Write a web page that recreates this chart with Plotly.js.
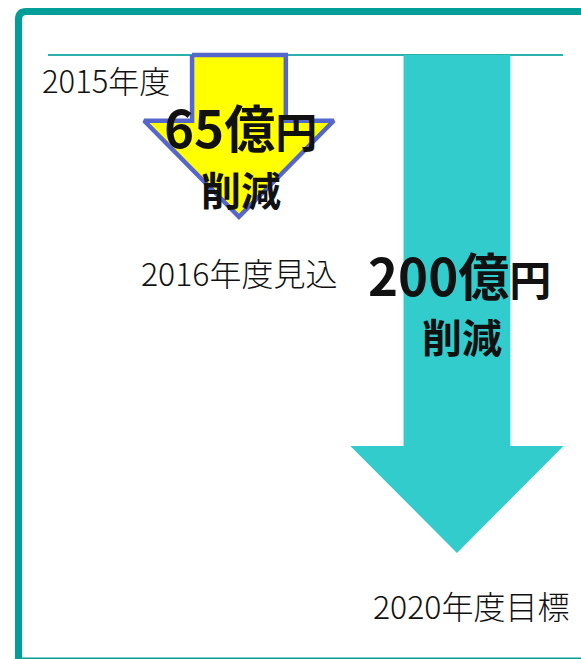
<!DOCTYPE html>
<html>
<head>
<meta charset="utf-8">
<script src="https://cdn.plot.ly/plotly-3.0.1.min.js"></script>
<style>html,body{margin:0;padding:0;background:#fff;}#chart{width:581px;height:659px;}</style>
</head>
<body>
<div id="chart"></div>
<script>
// ---- data ----
const years = ["2015年度", "2016年度見込", "2020年度目標"];
const baseline = 0;                       // 2015年度 level
const reductionYears = ["2016年度見込", "2020年度目標"];
const reductions = [65, 200];             // 億円 削減
const unitLabel = "億円";
const actionLabel = "削減";

// ---- styles ----
const W = 581, H = 659;
const arrowFill = ["#FFFF00", "#33CCCC"];
const arrowLine = ["#5566CC", "rgba(0,0,0,0)"];
const arrowLineW = [4.5, 0];
const shaftHalf = [0.215, 0.245];
const headHalf = [0.435, 0.489];
const headLen = [38.6, 43];
const frameColor = "#009E99";
const baseColor = "#2AB0AE";
const font = "'Noto Sans CJK JP', 'Noto Sans', sans-serif";

const px = x => x / W;
const py = y => 1 - y / H;

const traces = reductions.map((v, i) => {
  const c = i, s = shaftHalf[i], h = headHalf[i], L = headLen[i];
  const tip = baseline - v;
  return {
    type: "scatter", mode: "lines", fill: "toself",
    x: [c - s, c + s, c + s, c + h, c, c - h, c - s, c - s],
    y: [baseline, baseline, tip + L, tip + L, tip, tip + L, tip + L, baseline],
    fillcolor: arrowFill[i],
    line: { color: arrowLine[i], width: arrowLineW[i] },
    hoverinfo: "skip", name: reductionYears[i]
  };
});

const big = (v) => `<b>${v}${unitLabel.charAt(0)}<span style="font-size:42px">${unitLabel.charAt(1)}</span></b>`;

const annotations = [
  { text: years[0], x: px(40), y: py(80), xanchor: "left", size: 31, weight: 300 },
  { text: years[1], x: px(239), y: py(272), xanchor: "center", size: 32, weight: 300 },
  { text: years[2], x: px(471), y: py(605), xanchor: "center", size: 32, weight: 300 },
  { text: big(reductions[0]), x: px(240), y: py(126), xanchor: "center", size: 51, weight: 700 },
  { text: "<b>" + actionLabel + "</b>", x: px(241), y: py(189), xanchor: "center", size: 40, weight: 700 },
  { text: big(reductions[1]), x: px(460), y: py(274), xanchor: "center", size: 51, weight: 700 },
  { text: "<b>" + actionLabel + "</b>", x: px(462), y: py(336), xanchor: "center", size: 40, weight: 700 }
].map(a => ({
  text: a.text, x: a.x, y: a.y, xref: "paper", yref: "paper",
  xanchor: a.xanchor, yanchor: "middle", showarrow: false,
  font: { family: font, size: a.size, color: "#111", weight: a.weight }
}));

const r = 8;
const x0 = 18.5, y0 = 11.5, x1 = 620, y1 = 661;
const framePath = `M ${px(x0)},${py(y1)} L ${px(x0)},${py(y0 + r)} Q ${px(x0)},${py(y0)} ${px(x0 + r)},${py(y0)} L ${px(x1)},${py(y0)} L ${px(x1)},${py(y1)} Z`;

const layout = {
  width: W, height: H,
  margin: { l: 0, r: 0, t: 0, b: 0 },
  paper_bgcolor: "#fff", plot_bgcolor: "#fff",
  showlegend: false,
  xaxis: { range: [-1.096, 1.569], visible: false, fixedrange: true },
  yaxis: { range: [-242.57, 22.09], visible: false, fixedrange: true },
  shapes: [
    { type: "line", xref: "paper", yref: "y", x0: px(48), x1: px(563), y0: baseline, y1: baseline,
      line: { color: baseColor, width: 2 }, layer: "below" },
    { type: "path", xref: "paper", yref: "paper", path: framePath,
      line: { color: frameColor, width: 7 }, fillcolor: "rgba(0,0,0,0)" }
  ],
  annotations
};

Plotly.newPlot("chart", traces, layout, { displayModeBar: false, staticPlot: true });
</script>
</body>
</html>
